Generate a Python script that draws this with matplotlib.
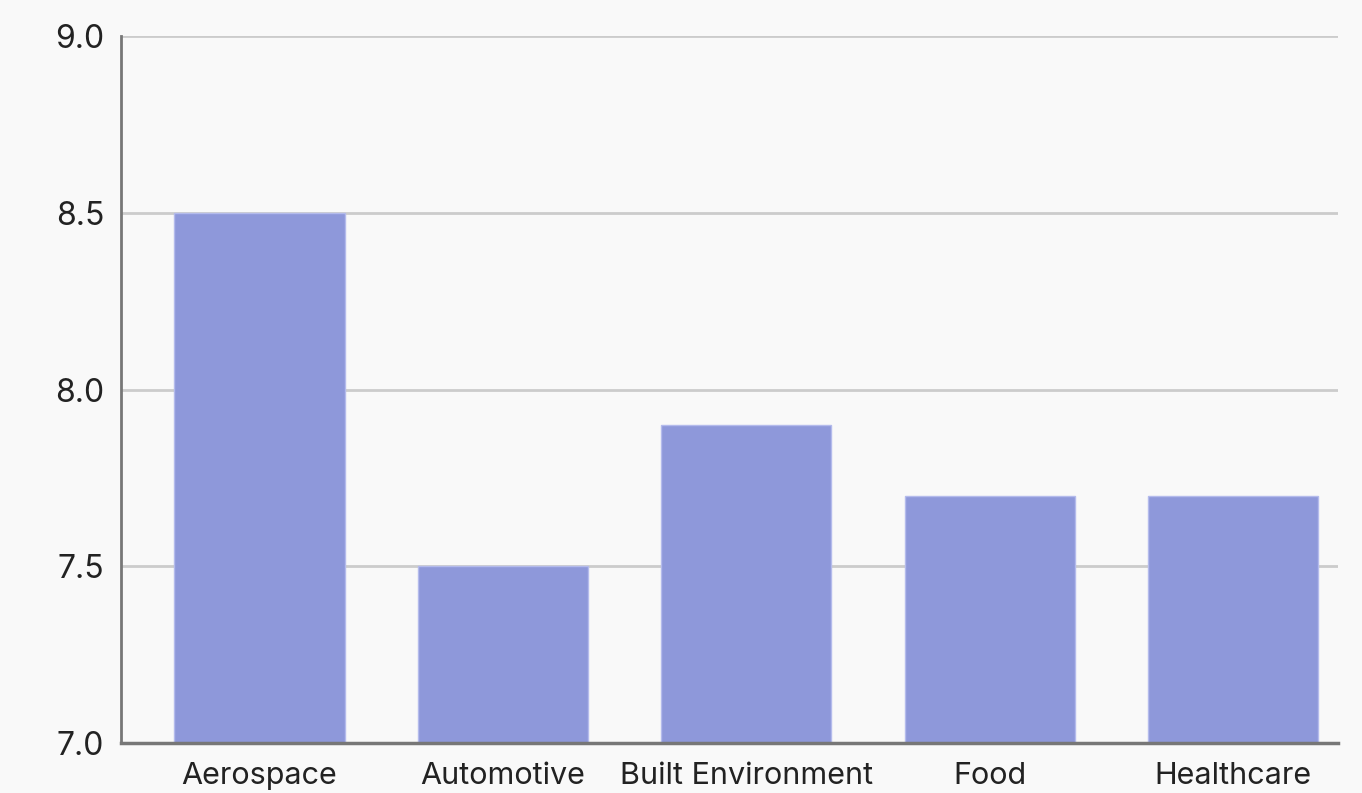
import matplotlib
matplotlib.use("Agg")
import matplotlib.pyplot as plt

categories = ["Aerospace", "Automotive", "Built Environment", "Food", "Healthcare"]
values = [8.5, 7.5, 7.9, 7.7, 7.7]
yticks = [7.0, 7.5, 8.0, 8.5, 9.0]

plt.rcParams['font.family'] = ['Inter', 'DejaVu Sans']

fig = plt.figure(figsize=(13.62, 7.93), dpi=100, facecolor='#f9f9f9')
ax = fig.add_axes([121 / 1362, 1 - 743 / 793, (1338 - 121) / 1362, (743 - 36) / 793])
ax.set_facecolor('#f9f9f9')

x = range(len(categories))
ax.bar(x, [v - 7.0 for v in values], bottom=7.0, width=0.7,
       color='#8e98da', edgecolor='#b4bbec', linewidth=1, zorder=3)

ax.set_ylim(7.0, 9.0)
ax.set_xlim(-0.569, 4.431)
ax.set_yticks(yticks)
ax.set_yticklabels([f"{t:.1f}" for t in yticks])
ax.set_xticks(list(x))
ax.set_xticklabels(categories)
ax.tick_params(axis='both', length=0, colors='#222222')
ax.tick_params(axis='y', pad=12, labelsize=23)
ax.tick_params(axis='x', pad=14, labelsize=22)

ax.yaxis.grid(True, color='#cccccc', linewidth=2, zorder=0)
ax.spines['top'].set_visible(False)
ax.spines['right'].set_visible(False)
ax.spines['left'].set_color('#777777')
ax.spines['left'].set_linewidth(2)
ax.spines['bottom'].set_color('#777777')
ax.spines['bottom'].set_linewidth(2.5)
ax.spines['bottom'].set_zorder(4)

fig.savefig("out.png", dpi=100, facecolor=fig.get_facecolor())
